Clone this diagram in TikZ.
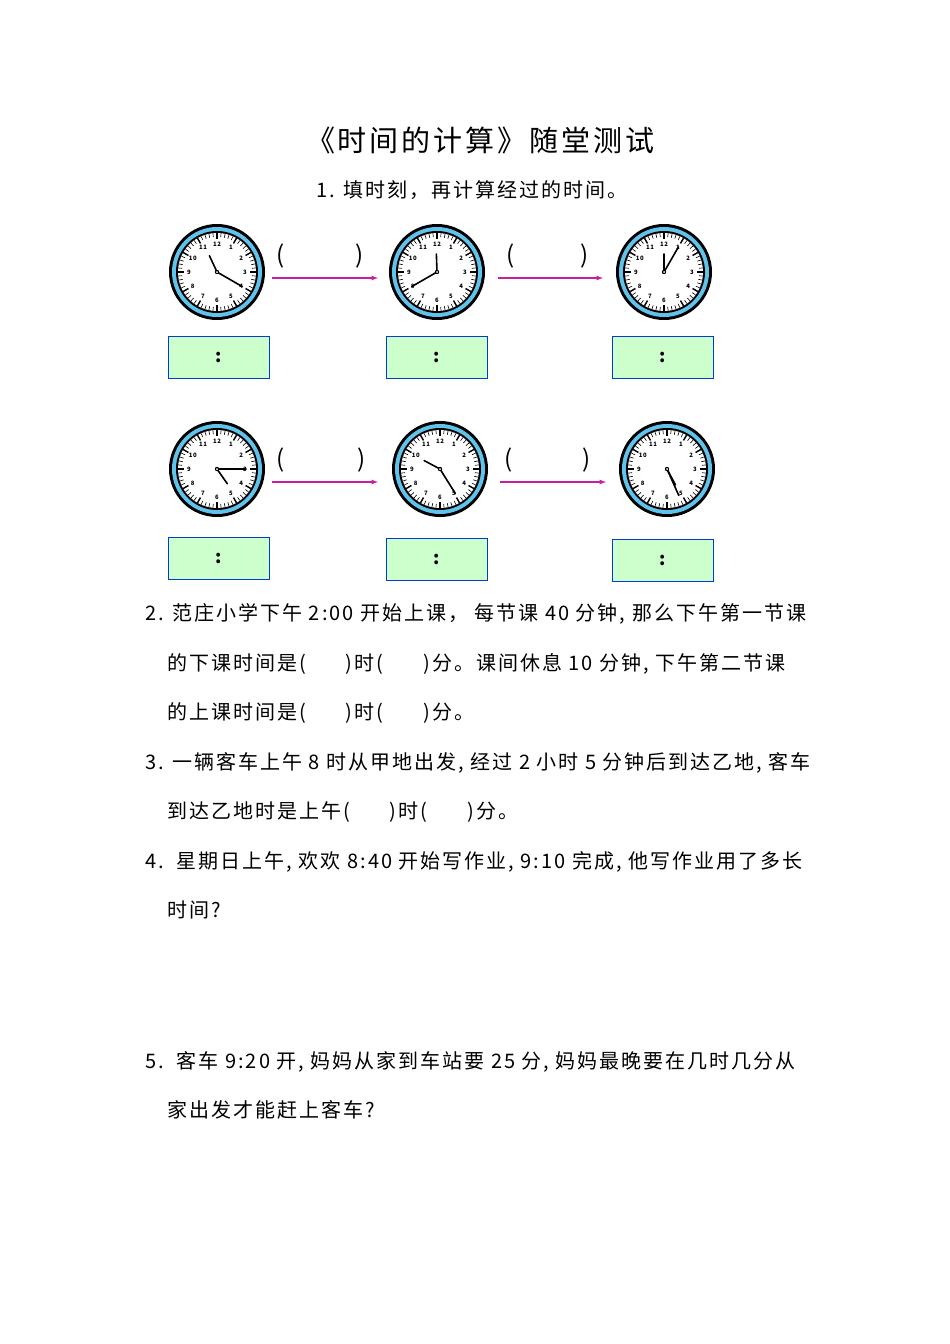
\documentclass[tikz,border=0pt]{standalone}
\usepackage{fontspec}
\setmainfont{Noto Sans CJK SC}[LetterSpace=10]
\definecolor{ring}{RGB}{95,195,235}
\definecolor{arrc}{RGB}{200,30,160}
\begin{document}
\begin{tikzpicture}[x=1pt,y=-1pt,
  txt/.style={anchor=base west,inner sep=0pt,font=\fontsize{20}{20}\selectfont},
  par/.style={inner sep=0pt,font=\fontsize{24}{24}\selectfont},
  tbox/.style={draw=blue!70!cyan!80!black,fill=green!20,line width=1pt,minimum width=101pt,minimum height=42pt,inner sep=0pt,font=\fontsize{18}{18}\selectfont\bfseries},
  arr/.style={-latex,draw=arrc,line width=1.2pt}]
\useasboundingbox (0,0) rectangle (950,1344);
\fill[white] (0,0) rectangle (950,1344);
\newcommand{\myclock}[5]{%
  \begin{scope}[shift={(#1,#2)},y=1pt]
  \fill[black] (0,0) circle[radius=48];
  \fill[ring] (0,0) circle[radius=45];
  \fill[black] (0,0) circle[radius=41];
  \fill[white] (0,0) circle[radius=39];
  \foreach \k in {0,...,59}{\draw[line width=0.6pt] ({90-6*\k}:39) -- ({90-6*\k}:35);}
  \foreach \k in {0,...,11}{\draw[line width=1.4pt] ({90-30*\k}:39) -- ({90-30*\k}:33);}
  \foreach \k in {1,...,12}{\node[font=\fontsize{6}{6}\selectfont\bfseries,inner sep=0pt] at ({90-30*\k}:28) {\k};}
  \draw[line width=1.6pt,line cap=round] (0,0) -- ({90-#3}:18);
  \draw[line width=1.6pt,line cap=round] (0,0) -- ({90-#4}:29);
  \fill (0,0) circle[radius=2.2];
  \fill[white] (0,0) circle[radius=1];
  \end{scope}
  \coordinate (#5) at (#1,#2);
}
\node[inner sep=0pt,font=\fontsize{29}{29}\selectfont] (title) at (480,140) {《时间的计算》随堂测试};
\node[inner sep=0pt,font=\fontsize{20}{20}\selectfont] (sub) at (472,190) {1. 填时刻，再计算经过的时间。};
% row 1
\myclock{217}{272}{335}{120}{c1}
\myclock{437}{272}{358}{240}{c2}
\myclock{664}{272}{0}{30}{c3}
\coordinate (a1s) at (272,278); \coordinate (a1e) at (378,278);
\coordinate (a2s) at (498,278); \coordinate (a2e) at (603,278);
\draw[arr] (a1s) -- (a1e); \draw[arr] (a2s) -- (a2e);
\node[par] (p1) at (281,256) {(}; \node[par] (p2) at (360,256) {)};
\node[par] (p3) at (511,256) {(}; \node[par] (p4) at (585,256) {)};
\node[tbox] (b1) at (218.5,357) {:};
\node[tbox] (b2) at (436.5,357) {:};
\node[tbox] (b3) at (662.5,357) {:};
% row 2
\myclock{217}{469}{145}{90}{c4}
\myclock{440}{469}{298}{148}{c5}
\myclock{667}{469}{152}{156}{c6}
\coordinate (a3s) at (272,482); \coordinate (a3e) at (378,482);
\coordinate (a4s) at (500,482); \coordinate (a4e) at (606,482);
\draw[arr] (a3s) -- (a3e); \draw[arr] (a4s) -- (a4e);
\node[par] (p5) at (281,460) {(}; \node[par] (p6) at (362,460) {)};
\node[par] (p7) at (509,460) {(}; \node[par] (p8) at (587,460) {)};
\node[tbox] (b4) at (218.5,558) {:};
\node[tbox] (b5) at (436.5,559) {:};
\node[tbox] (b6) at (662.5,560) {:};
% text
\node[txt] (l1) at (145,620) {2. 范庄小学下午 2:00 开始上课， 每节课 40 分钟, 那么下午第一节课};
\node[txt] (l2) at (167,670) {的下课时间是(\hspace{2em})时(\hspace{2em})分。课间休息 10 分钟, 下午第二节课};
\node[txt] (l3) at (167,719) {的上课时间是(\hspace{2em})时(\hspace{2em})分。};
\node[txt] (l4) at (145,769) {3. 一辆客车上午 8 时从甲地出发, 经过 2 小时 5 分钟后到达乙地, 客车};
\node[txt] (l5) at (167,818) {到达乙地时是上午(\hspace{2em})时(\hspace{2em})分。};
\node[txt] (l6) at (145,868) {4.\ \ 星期日上午, 欢欢 8:40 开始写作业, 9:10 完成, 他写作业用了多长};
\node[txt] (l7) at (167,917) {时间?};
\node[txt] (l8) at (145,1068) {5.\ \ 客车 9:20 开, 妈妈从家到车站要 25 分, 妈妈最晚要在几时几分从};
\node[txt] (l9) at (167,1117) {家出发才能赶上客车?};
\end{tikzpicture}
\end{document}
